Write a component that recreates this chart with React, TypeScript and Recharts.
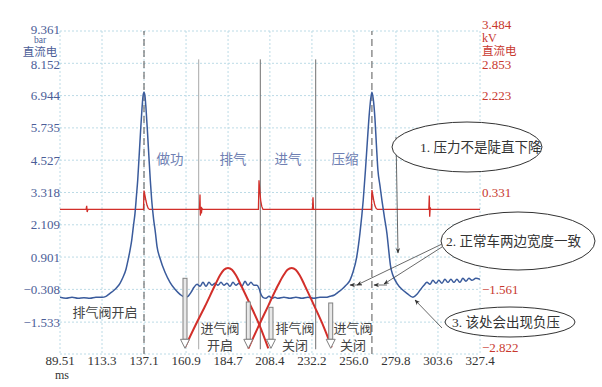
import { LineChart, Line, XAxis, YAxis, CartesianGrid, ReferenceLine } from 'recharts'

// crank-angle time axis (ms)
const xTicks = [89.51, 113.3, 137.1, 160.9, 184.7, 208.4, 232.2, 256.0, 279.8, 303.6, 327.4]
const xTickLabels = ['89.51', '113.3', '137.1', '160.9', '184.7', '208.4', '232.2', '256.0', '279.8', '303.6', '327.4']

// left axis: pressure (bar)
const leftTicks = [9.361, 8.152, 6.944, 5.735, 4.527, 3.318, 2.109, 0.901, -0.308, -1.533, -2.726]
const leftTickLabels = ['9.361', '8.152', '6.944', '5.735', '4.527', '3.318', '2.109', '0.901', '−0.308', '−1.533', '']

// right axis: ignition voltage (kV)
const rightTicks = [3.484, 2.853, 2.223, 1.592, 0.962, 0.331, -0.3, -0.93, -1.561, -2.192, -2.822]
const rightTickLabels = ['3.484', '2.853', '2.223', '', '', '0.331', '', '', '−1.561', '', '−2.822']

const pressureX = [
  89.51, 92.91, 96.31, 99.7, 103.1, 106.5, 109.9, 113.3, 115.56, 117.83, 120.1, 121.79, 123.49,
  125.19, 126.89, 128.03, 129.16, 130.12, 131.14, 131.99, 132.84, 133.52, 134.26, 135.11, 135.96,
  136.52, 137.09, 137.66, 138.22, 139.07, 139.92, 140.66, 141.45, 142.47, 143.6, 144.45, 146.15,
  148.99, 151.82, 154.65, 157.48, 160.31, 162.01, 163.71, 165.41, 167.11, 168.81, 170.5, 172.2,
  173.9, 175.6, 177.3, 178.99, 180.69, 182.39, 184.09, 185.79, 187.49, 189.18, 190.88, 192.58,
  194.28, 195.98, 197.67, 199.37, 201.07, 202.2, 203.34, 204.47, 206.17, 207.87, 209.57, 211.26,
  212.96, 216.36, 219.76, 223.15, 226.55, 229.95, 233.35, 236.74, 240.14, 242.41, 244.67, 246.94,
  249.2, 251.47, 253.73, 255.43, 257.53, 259.39, 261.26, 262.51, 263.64, 264.77, 265.62, 266.19,
  267.04, 267.89, 268.74, 269.59, 270.72, 271.85, 273.27, 274.68, 275.82, 276.67, 278.08, 280.35,
  283.18, 286.01, 289.41, 291.68, 293.38, 295.64, 297.34, 299.04, 300.74, 302.44, 304.13, 305.83,
  307.53, 309.23, 310.93, 312.62, 314.32, 316.02, 317.72, 319.42, 321.11, 322.81, 325.08, 327.4,
]
const pressureY = [
  -0.604, -0.642, -0.604, -0.642, -0.62, -0.642, -0.604, -0.604, -0.567, -0.455, -0.342, -0.23, -0.08,
  0.144, 0.444, 0.78, 1.155, 1.529, 2.09, 2.539, 3.213, 3.774, 4.597, 5.57, 6.468,
  6.917, 7.067, 6.917, 6.468, 5.57, 4.597, 3.774, 3.026, 2.352, 1.791, 1.304, 0.855,
  0.331, -0.043, -0.305, -0.492, -0.604, -0.567, -0.417, -0.23, -0.118, -0.193, -0.043, -0.193,
  -0.043, -0.155, -0.08, -0.155, -0.043, -0.155, -0.08, -0.193, -0.043, -0.155, -0.08, -0.193,
  -0.005, -0.155, -0.043, -0.155, -0.155, -0.268, -0.492, -0.604, -0.642, -0.567, -0.642, -0.604,
  -0.642, -0.604, -0.642, -0.604, -0.642, -0.604, -0.642, -0.604, -0.604, -0.567, -0.529, -0.417,
  -0.305, -0.155, 0.032, 0.331, 0.893, 1.791, 3.026, 4.149, 5.271, 6.319, 6.88, 7.067,
  6.768, 6.094, 5.084, 4.149, 3.587, 3.026, 2.39, 1.791, 1.08, 0.593, 0.219, -0.08,
  -0.305, -0.455, -0.604, -0.492, -0.342, -0.155, -0.043, -0.118, 0.032, -0.08, 0.032, -0.08,
  0.07, -0.043, 0.07, -0.043, 0.07, -0.043, 0.107, -0.005, 0.107, 0.032, 0.107, 0.07,
]

const voltageX = [
  89.51, 104.3, 104.63, 104.9, 105.3, 136.8, 137.09, 137.6, 138.2, 138.8, 139.5, 140.2, 168.5,
  168.81, 169.0, 169.3, 169.6, 169.9, 170.3, 201.9, 202.22, 202.7, 203.2, 203.8, 204.5, 232.5,
  232.81, 233.1, 265.9, 266.19, 266.7, 267.3, 267.9, 268.6, 269.3, 298.4, 298.69, 298.9, 299.2,
  299.5, 327.4,
]
const voltageY = [
  0, 0, 0.07, -0.05, 0, 0, 0.37, 0.28, 0.17, 0.08, 0.02, 0, 0,
  0.29, -0.12, 0.05, -0.08, 0.02, 0, 0, 0.57, 0.35, 0.17, 0.06, 0, 0,
  0.24, 0, 0, 0.38, 0.28, 0.16, 0.07, 0.02, 0, 0, 0.27, -0.14, 0.04,
  0, 0,
]

// valve lift traces
const exhaustLiftX = [160.31, 165.97, 171.64, 177.3, 180.13, 182.39, 184.66, 186.93, 189.18, 192.03, 197.67, 202.77, 207.49]
const exhaustLiftY = [-2.691, -2.281, -1.891, -1.481, -1.285, -1.178, -1.143, -1.178, -1.285, -1.481, -1.891, -2.281, -2.711]
const intakeLiftX = [196.16, 201.66, 207.32, 212.98, 216.1, 218.37, 220.74, 223.0, 225.27, 228.1, 233.66, 238.75, 243.4]
const intakeLiftY = [-2.717, -2.301, -1.891, -1.481, -1.285, -1.178, -1.143, -1.178, -1.285, -1.481, -1.891, -2.281, -2.691]

// TDC markers, stroke dividers, valve event arrows
const tdcX = [137.09, 266.19]
const strokeDividerX = [168.07, 202.96, 234.34]
const valveEventX = [160.31, 196.16, 209.02, 242.84]
const valveEventTop = [0.107, -0.78, -0.979, -0.817]

const zip = (xs: number[], ys: number[]) => xs.map((x, i) => ({ x, y: ys[i] }))
const pressureData = zip(pressureX, pressureY)
const voltageData = zip(voltageX, voltageY)
const exhaustData = zip(exhaustLiftX, exhaustLiftY)
const intakeData = zip(intakeLiftX, intakeLiftY)

const FONT = "'Liberation Serif', 'Noto Sans CJK SC', serif"
const BLUE = '#3a5b9c'
const RED = '#d22f2a'
const BLUE_TXT = '#4b5d97'
const RED_TXT = '#c8382e'

const LeftTick = (props: any) => {
  const i = leftTicks.indexOf(props.payload.value)
  const shift = i === 0 ? -2 : i === 1 ? 1.5 : 0
  return (
    <text x={60} y={props.y + 4.5 + shift} textAnchor="end" fill={BLUE_TXT} fontSize={13} fontFamily={FONT}>
      {leftTickLabels[i]}
    </text>
  )
}

const RightTick = (props: any) => {
  const i = rightTicks.indexOf(props.payload.value)
  const shift = i === 0 ? -7 : i === 1 ? 1.5 : i === rightTicks.length - 1 ? -7 : 0
  return (
    <text x={482} y={props.y + 4.5 + shift} textAnchor="start" fill={RED_TXT} fontSize={13} fontFamily={FONT}>
      {rightTickLabels[i]}
    </text>
  )
}

const BottomTick = (props: any) => {
  const i = xTicks.indexOf(props.payload.value)
  return (
    <text x={props.x} y={365} textAnchor="middle" fill="#333" fontSize={13} fontFamily={FONT}>
      {xTickLabels[i]}
    </text>
  )
}

const HollowArrow = (props: any) => {
  const { x1, y1, y2 } = props
  const head = 9
  return (
    <g>
      <rect x={x1 - 2} y={y1} width={4} height={y2 - y1 - head} fill="#e8e8e8" stroke="#808080" strokeWidth={1} />
      <polygon
        points={`${x1 - 4.5},${y2 - head} ${x1 + 4.5},${y2 - head} ${x1},${y2}`}
        fill="#fff"
        stroke="#808080"
        strokeWidth={1}
      />
    </g>
  )
}

const txt = { fontFamily: FONT, fontSize: 13 }

export default function App() {
  return (
    <div style={{ position: 'absolute', left: 0, top: 0, width: 602, height: 387, background: '#fff' }}>
      <LineChart width={602} height={387} margin={{ top: 31, right: 0, bottom: 0, left: 0 }}>
        <CartesianGrid yAxisId="left" stroke="#bcdbe6" strokeDasharray="2 2" />
        <XAxis
          type="number"
          dataKey="x"
          domain={[89.51, 327.4]}
          ticks={xTicks}
          height={33}
          axisLine={false}
          tickLine={false}
          tick={<BottomTick />}
          allowDataOverflow
        />
        <YAxis
          yAxisId="left"
          type="number"
          domain={[-2.726, 9.361]}
          ticks={leftTicks}
          width={60}
          axisLine={false}
          tickLine={false}
          tick={<LeftTick />}
          allowDataOverflow
        />
        <YAxis
          yAxisId="right"
          orientation="right"
          type="number"
          domain={[-2.822, 3.484]}
          ticks={rightTicks}
          width={122}
          axisLine={false}
          tickLine={false}
          tick={<RightTick />}
          allowDataOverflow
        />

        {tdcX.map((x) => (
          <ReferenceLine key={'tdc' + x} yAxisId="left" x={x} stroke="#555" strokeDasharray="7 4" strokeWidth={1} />
        ))}
        {strokeDividerX.map((x, i) => (
          <ReferenceLine
            key={'div' + x}
            yAxisId="left"
            segment={[{ x, y: 8.3 }, { x, y: -2.55 }]}
            stroke={i === 0 ? '#a8a8a8' : '#707070'}
            strokeWidth={1}
          />
        ))}

        <Line yAxisId="right" data={voltageData} dataKey="y" type="linear" stroke={RED} strokeWidth={1.3} dot={false} isAnimationActive={false} />
        <Line yAxisId="left" data={pressureData} dataKey="y" type="monotone" stroke={BLUE} strokeWidth={1.5} dot={false} isAnimationActive={false} />
        <Line yAxisId="right" data={exhaustData} dataKey="y" type="monotone" stroke={RED} strokeWidth={2} dot={false} isAnimationActive={false} />
        <Line yAxisId="right" data={intakeData} dataKey="y" type="monotone" stroke={RED} strokeWidth={2} dot={false} isAnimationActive={false} />

        {valveEventX.map((x, i) => (
          <ReferenceLine
            key={'ev' + x}
            yAxisId="left"
            segment={[{ x, y: valveEventTop[i] }, { x, y: -2.513 }]}
            shape={HollowArrow}
          />
        ))}
      </LineChart>

      <svg width={602} height={387} style={{ position: 'absolute', left: 0, top: 0, pointerEvents: 'none' }}>
        <defs>
          <marker id="ah" viewBox="0 0 10 10" refX="9" refY="5" markerWidth="7" markerHeight="7" orient="auto">
            <path d="M0,1 L10,5 L0,9 L3,5 Z" fill="#333" />
          </marker>
        </defs>

        {/* units */}
        <text x={40} y={43} textAnchor="middle" fill={BLUE_TXT} fontFamily={FONT} fontSize={9.5}>bar</text>
        <text x={40} y={56} textAnchor="middle" fill={BLUE_TXT} fontFamily={FONT} fontSize={11.5}>直流电</text>
        <text x={482} y={42} fill={RED_TXT} fontFamily={FONT} fontSize={12}>kV</text>
        <text x={482} y={54.5} fill={RED_TXT} fontFamily={FONT} fontSize={11.5}>直流电</text>
        <text x={62} y={379} textAnchor="middle" fill="#333" fontFamily={FONT} fontSize={12}>ms</text>

        {/* stroke labels */}
        <g fill="#6f7fb3" {...txt} fontSize={13.5} textAnchor="middle">
          <text x={170} y={164}>做功</text>
          <text x={233} y={164}>排气</text>
          <text x={288} y={164}>进气</text>
          <text x={345} y={164}>压缩</text>
        </g>

        {/* valve event labels */}
        <g fill="#444" {...txt} textAnchor="middle">
          <text x={105} y={317}>排气阀开启</text>
          <text x={220} y={333}>进气阀</text>
          <text x={220} y={350}>开启</text>
          <text x={295} y={333}>排气阀</text>
          <text x={295} y={350}>关闭</text>
          <text x={353} y={333}>进气阀</text>
          <text x={353} y={350}>关闭</text>
        </g>

        {/* callouts */}
        <g stroke="#444" strokeWidth={0.8} fill="none">
          <line x1={396} y1={137} x2={398} y2={253} markerEnd="url(#ah)" />
          <line x1={442} y1={244} x2={357} y2={285} markerEnd="url(#ah)" />
          <line x1={442} y1={247} x2={384} y2={284} markerEnd="url(#ah)" />
          <line x1={362} y1={285} x2={350} y2={285} markerEnd="url(#ah)" />
          <line x1={387} y1={285} x2={374} y2={285} markerEnd="url(#ah)" />
          <line x1={442} y1={328} x2={415} y2={300} markerEnd="url(#ah)" />
        </g>
        <g stroke="#333" strokeWidth={1} fill="#fff">
          <ellipse cx={467} cy={147} rx={75} ry={25} />
          <ellipse cx={518} cy={241} rx={77} ry={29} />
          <ellipse cx={510} cy={322} rx={65} ry={15} />
        </g>
        <g fill="#333" {...txt} fontSize={13.5}>
          <text x={420} y={152}>1. 压力不是陡直下降</text>
          <text x={446} y={246}>2. 正常车两边宽度一致</text>
          <text x={452} y={327}>3. 该处会出现负压</text>
        </g>
      </svg>
    </div>
  )
}
